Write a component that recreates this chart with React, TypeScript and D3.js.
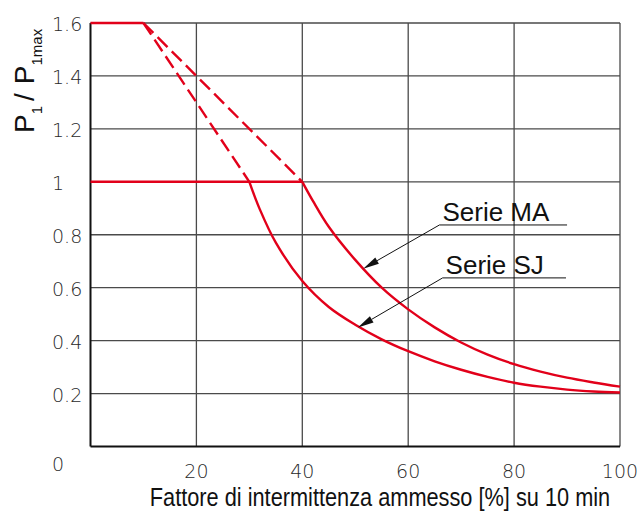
import React from 'react';
import * as d3 from 'd3';

// Duty cycle (%) vs P1 / P1max
const X_TICKS = [20, 40, 60, 80, 100];
const Y_TICKS = [0.2, 0.4, 0.6, 0.8, 1, 1.2, 1.4, 1.6];

const MA_X = [40, 42, 45, 50, 55, 60, 65, 70, 75, 80, 85, 90, 95, 100];
const MA_Y = [1.0, 0.928, 0.83, 0.705, 0.6, 0.518, 0.45, 0.393, 0.347, 0.311, 0.283, 0.26, 0.242, 0.226];

const SJ_X = [30, 32, 35, 40, 45, 50, 55, 60, 65, 70, 75, 80, 85, 90, 95, 100];
const SJ_Y = [1.0, 0.895, 0.77, 0.625, 0.527, 0.46, 0.405, 0.36, 0.322, 0.29, 0.263, 0.241, 0.226, 0.215, 0.208, 0.204];

// straight segments: [x1, y1, x2, y2]
const SOLID_SEGMENTS = [
  [0, 1.6, 10, 1.6],
  [0, 1.0, 40, 1.0],
];
const DASHED_SEGMENTS = [
  [10, 1.6, 40, 1.0],
  [10, 1.6, 30, 1.0],
];

// annotations: label, underline start/end (data units), arrow tip on curve
const LABELS = ['Serie MA', 'Serie SJ'];
const LABEL_X0 = [65.9, 66.5];
const LABEL_X1 = [90.0, 89.8];
const LABEL_Y = [0.837, 0.637];
const TIP_X = [51.5, 50.5];
const TIP_Y = [0.672, 0.45];

const RED = '#e2001a';
const GRID = '#4a4a4a';

export default function App() {
  const width = 639;
  const height = 513;

  const x = d3.scaleLinear().domain([0, 100]).range([90.5, 620]);
  const y = d3.scaleLinear().domain([0, 1.6]).range([446.5, 23]);

  const line = d3
    .line<[number, number]>()
    .x(d => x(d[0]))
    .y(d => y(d[1]))
    .curve(d3.curveCatmullRom.alpha(0.5));

  const maPath = line(MA_X.map((v, i) => [v, MA_Y[i]] as [number, number])) || '';
  const sjPath = line(SJ_X.map((v, i) => [v, SJ_Y[i]] as [number, number])) || '';

  const tickFont = "'DejaVu Sans', sans-serif";

  return (
    <svg
      width={width}
      height={height}
      style={{ position: 'absolute', left: 0, top: 0, background: '#fff' }}
    >
      {/* grid */}
      {Y_TICKS.map(t => (
        <line key={'h' + t} x1={x(0)} x2={x(100)} y1={y(t)} y2={y(t)} stroke={GRID} strokeWidth={1.3} />
      ))}
      {X_TICKS.map(t => (
        <line key={'v' + t} x1={x(t)} x2={x(t)} y1={y(0)} y2={y(1.6)} stroke={GRID} strokeWidth={1.3} />
      ))}
      {/* axes */}
      <line x1={x(0)} x2={x(100)} y1={y(0)} y2={y(0)} stroke="#111" strokeWidth={2} />
      <line x1={x(0)} x2={x(0)} y1={y(0)} y2={y(1.6)} stroke="#111" strokeWidth={2} />

      {/* red lines */}
      {SOLID_SEGMENTS.map((s, i) => (
        <line key={'s' + i} x1={x(s[0])} y1={y(s[1])} x2={x(s[2])} y2={y(s[3])} stroke={RED} strokeWidth={2.4} />
      ))}
      {DASHED_SEGMENTS.map((s, i) => (
        <line
          key={'d' + i}
          x1={x(s[0])}
          y1={y(s[1])}
          x2={x(s[2])}
          y2={y(s[3])}
          stroke={RED}
          strokeWidth={2.4}
          strokeDasharray="14 6"
        />
      ))}
      <path d={maPath} fill="none" stroke={RED} strokeWidth={2.4} />
      <path d={sjPath} fill="none" stroke={RED} strokeWidth={2.4} />

      {/* annotations */}
      {LABELS.map((lab, i) => {
        const ux0 = x(LABEL_X0[i]);
        const ux1 = x(LABEL_X1[i]);
        const uy = y(LABEL_Y[i]);
        const tx = x(TIP_X[i]);
        const ty = y(TIP_Y[i]);
        const ang = Math.atan2(uy - ty, ux0 - tx);
        const len = 16;
        const hw = 3.6;
        const bx = tx + Math.cos(ang) * len;
        const by = ty + Math.sin(ang) * len;
        const px = -Math.sin(ang) * hw;
        const py = Math.cos(ang) * hw;
        return (
          <g key={lab}>
            <line x1={ux0} x2={ux1} y1={uy} y2={uy} stroke="#111" strokeWidth={1} />
            <line x1={ux0} y1={uy} x2={bx} y2={by} stroke="#111" strokeWidth={1} />
            <polygon points={`${tx},${ty} ${bx + px},${by + py} ${bx - px},${by - py}`} fill="#111" />
            <text
              x={ux0 + 3}
              y={uy - 4}
              fontFamily="'Liberation Sans', Arial, sans-serif"
              fontSize={26}
              fill="#111"
            >
              {lab}
            </text>
          </g>
        );
      })}

      {/* y tick labels */}
      {Y_TICKS.map(t => (
        <text
          key={'yl' + t}
          x={52}
          y={y(t) + 8}
          fontFamily={tickFont}
          fontWeight={200}
          fontSize={19}
          fill="#2a2a2a"
        >
          {String(t)}
        </text>
      ))}
      <text x={52} y={y(0) + 24} fontFamily={tickFont} fontWeight={200} fontSize={19} fill="#2a2a2a">
        0
      </text>

      {/* x tick labels */}
      {X_TICKS.map(t => (
        <text
          key={'xl' + t}
          x={x(t)}
          y={478}
          textAnchor="middle"
          fontFamily={tickFont}
          fontWeight={200}
          fontSize={19}
          fill="#2a2a2a"
        >
          {t}
        </text>
      ))}

      {/* axis titles */}
      <text
        transform="translate(380,506) scale(0.87,1)"
        textAnchor="middle"
        fontFamily="'Liberation Sans', Arial, sans-serif"
        fontSize={25}
        fill="#111"
      >
        Fattore di intermittenza ammesso [%] su 10 min
      </text>
      <text
        transform="translate(33.5,133) rotate(-90)"
        fontFamily="'Liberation Sans', Arial, sans-serif"
        fill="#111"
      >
        <tspan fontSize={28}>P</tspan>
        <tspan fontSize={15} dy={8}>1</tspan>
        <tspan fontSize={28} dy={-8} dx={5}>/</tspan>
        <tspan fontSize={28} dx={9}>P</tspan>
        <tspan fontSize={15} dy={8}>1max</tspan>
      </text>
    </svg>
  );
}
